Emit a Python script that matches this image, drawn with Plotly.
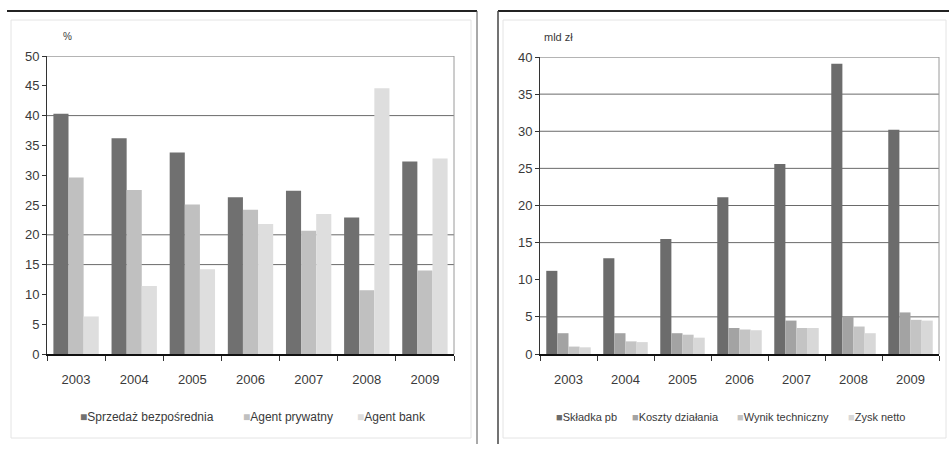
import plotly.graph_objects as go

# Years shared by both panels
years = ["2003", "2004", "2005", "2006", "2007", "2008", "2009"]

# Left panel: distribution channel shares, %
channel_names = ["Sprzedaż bezpośrednia", "Agent prywatny", "Agent bank"]
sprzedaz_bezposrednia = [40.3, 36.2, 33.8, 26.3, 27.4, 22.9, 32.3]
agent_prywatny = [29.6, 27.5, 25.1, 24.2, 20.7, 10.7, 14.0]
agent_bank = [6.3, 11.4, 14.2, 21.8, 23.5, 44.6, 32.8]
left_grid_levels = [15, 20, 40, 50]
left_ticks = [0, 5, 10, 15, 20, 25, 30, 35, 40, 45, 50]

# Right panel: premiums and results, mld zł
result_names = ["Składka pb", "Koszty działania", "Wynik techniczny", "Zysk netto"]
skladka_pb = [11.2, 12.9, 15.5, 21.1, 25.6, 39.1, 30.2]
koszty_dzialania = [2.8, 2.8, 2.8, 3.5, 4.5, 5.0, 5.6]
wynik_techniczny = [1.0, 1.7, 2.6, 3.3, 3.5, 3.7, 4.6]
zysk_netto = [0.9, 1.6, 2.2, 3.2, 3.5, 2.8, 4.5]
right_grid_levels = [5, 15, 20, 25, 30, 35, 40]
right_ticks = [0, 5, 10, 15, 20, 25, 30, 35, 40]

left_colors = ["#707070", "#c0c0c0", "#dedede"]
right_colors = ["#6c6c6c", "#a3a3a3", "#c4c4c4", "#d8d8d8"]

FONT = "Liberation Sans Narrow, Arial Narrow, Liberation Sans, Arial, sans-serif"
TEXT = "#3a3a3a"

fig = go.Figure()

for name, vals, col in zip(channel_names,
                           [sprzedaz_bezposrednia, agent_prywatny, agent_bank],
                           left_colors):
    fig.add_trace(go.Bar(x=years, y=vals, name=name, marker_color=col,
                         marker_line_width=0, xaxis="x", yaxis="y"))

for name, vals, col in zip(result_names,
                           [skladka_pb, koszty_dzialania, wynik_techniczny, zysk_netto],
                           right_colors):
    fig.add_trace(go.Bar(x=years, y=vals, name=name, marker_color=col,
                         marker_line_width=0, xaxis="x2", yaxis="y2"))

W, H = 949, 450


def px_x(p):
    return p / W


def px_y(p):
    return 1 - p / H


shapes = []
# horizontal grid lines behind the bars
for lvl in left_grid_levels:
    shapes.append(dict(type="line", xref="x domain", yref="y", x0=0, x1=1,
                       y0=lvl, y1=lvl, line=dict(color="#6a6a6a", width=1),
                       layer="below"))
for lvl in right_grid_levels:
    shapes.append(dict(type="line", xref="x2 domain", yref="y2", x0=0, x1=1,
                       y0=lvl, y1=lvl, line=dict(color="#6a6a6a", width=1),
                       layer="below"))
# right edges of the plot areas
shapes.append(dict(type="line", xref="x domain", yref="y domain", x0=1, x1=1,
                   y0=0, y1=1, line=dict(color="#9a9a9a", width=1), layer="below"))
shapes.append(dict(type="line", xref="x2 domain", yref="y2 domain", x0=1, x1=1,
                   y0=0, y1=1, line=dict(color="#9a9a9a", width=1), layer="below"))
# faint chart-area boxes
shapes.append(dict(type="rect", xref="paper", yref="paper",
                   x0=px_x(11), x1=px_x(471), y0=px_y(438), y1=px_y(20),
                   line=dict(color="#e4e4e4", width=1), layer="below"))
shapes.append(dict(type="rect", xref="paper", yref="paper",
                   x0=px_x(503), x1=px_x(946), y0=px_y(438), y1=px_y(20),
                   line=dict(color="#e4e4e4", width=1), layer="below"))
# panel frames
frame = dict(color="#222222", width=2)
shapes.append(dict(type="line", xref="paper", yref="paper",
                   x0=px_x(7), x1=px_x(477), y0=px_y(11), y1=px_y(11), line=frame))
shapes.append(dict(type="line", xref="paper", yref="paper",
                   x0=px_x(477), x1=px_x(477), y0=px_y(11), y1=px_y(444),
                   line=dict(color="#555555", width=1)))
shapes.append(dict(type="line", xref="paper", yref="paper",
                   x0=px_x(498), x1=px_x(949), y0=px_y(11), y1=px_y(11), line=frame))
shapes.append(dict(type="line", xref="paper", yref="paper",
                   x0=px_x(498), x1=px_x(498), y0=px_y(11), y1=px_y(444),
                   line=dict(color="#444444", width=1.5)))

annotations = [
    dict(text="%", xref="paper", yref="paper", x=px_x(67), y=px_y(37),
         xanchor="center", yanchor="middle",
         showarrow=False, font=dict(family=FONT, size=10, color=TEXT)),
    dict(text="mld zł", xref="paper", yref="paper", x=px_x(558), y=px_y(37),
         xanchor="center", yanchor="middle",
         showarrow=False, font=dict(family=FONT, size=11, color=TEXT)),
]

# legend rows drawn as coloured squares followed by labels
left_legend_x = [78, 241, 355]
right_legend_x = [554, 630, 735, 846]
for name, col, xp in zip(channel_names, left_colors, left_legend_x):
    annotations.append(dict(
        text=f'<span style="color:{col}">■</span>{name}',
        xref="paper", yref="paper", x=px_x(xp), y=px_y(417),
        xanchor="left", yanchor="middle",
        showarrow=False, font=dict(family=FONT, size=12, color=TEXT)))
for name, col, xp in zip(result_names, right_colors, right_legend_x):
    annotations.append(dict(
        text=f'<span style="color:{col}">■</span>{name}',
        xref="paper", yref="paper", x=px_x(xp), y=px_y(417),
        xanchor="left", yanchor="middle",
        showarrow=False, font=dict(family=FONT, size=11, color=TEXT)))

xaxis_common = dict(type="category", showgrid=False, showline=True,
                    linecolor="#111111", linewidth=2, ticks="outside",
                    tickson="boundaries", ticklen=5, tickcolor="#333333",
                    ticklabelstandoff=12, automargin=False,
                    tickfont=dict(family=FONT, size=13, color=TEXT))
yaxis_common = dict(showgrid=False, showline=True, linecolor="#333333",
                    linewidth=1, ticks="outside", ticklen=4, automargin=False,
                    tickcolor="#333333", zeroline=False,
                    tickfont=dict(family=FONT, size=13, color=TEXT))

fig.update_layout(
    width=W, height=H, autosize=False,
    margin=dict(l=0, r=0, t=0, b=0, pad=0),
    paper_bgcolor="white", plot_bgcolor="white",
    showlegend=False,
    barmode="group",
    bargap=0.22, bargroupgap=0,
    xaxis=dict(domain=[px_x(47), px_x(454)], anchor="y", **xaxis_common),
    yaxis=dict(domain=[px_y(354), px_y(56)], anchor="x", range=[0, 50],
               tickvals=left_ticks, **yaxis_common),
    xaxis2=dict(domain=[px_x(540), px_x(939)], anchor="y2", **xaxis_common),
    yaxis2=dict(domain=[px_y(354), px_y(57)], anchor="x2", range=[0, 40],
                tickvals=right_ticks, **yaxis_common),
    shapes=shapes,
    annotations=annotations,
)

fig.write_html("out.html")
